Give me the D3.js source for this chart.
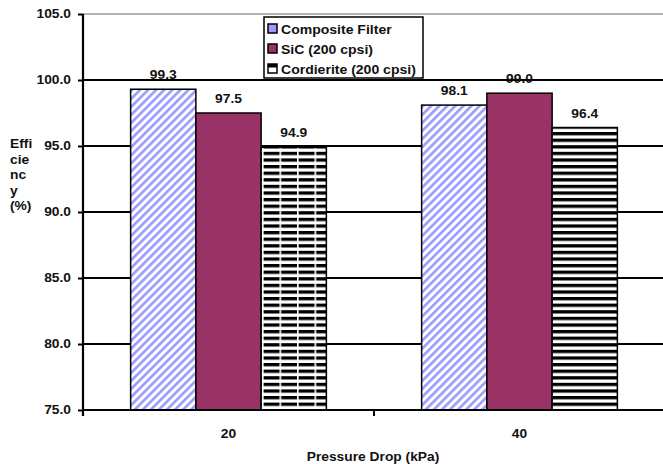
<!DOCTYPE html>
<html>
<head>
<meta charset="utf-8">
<script src="https://cdn.jsdelivr.net/npm/d3@7"></script>
<style>
  html, body { margin: 0; padding: 0; background: #fff; }
  svg { display: block; }
  text { font-family: "Liberation Sans", Arial, sans-serif; font-weight: bold; fill: #111; }
</style>
</head>
<body>
<svg id="chart" width="663" height="464"></svg>
<script>
// Filtration efficiency by pressure drop
const categories = ["20", "40"];
const seriesNames = ["Composite Filter", "SiC (200 cpsi)", "Cordierite (200 cpsi)"];
const compositeValues = [99.3, 98.1];
const sicValues = [97.5, 99.0];
const cordieriteValues = [94.9, 96.4];
const yTicks = [75, 80, 85, 90, 95, 100, 105];
const yLabelLines = ["Effi", "cie", "nc", "y", "(%)"];
const xTitle = "Pressure Drop (kPa)";

const seriesValues = [compositeValues, sicValues, cordieriteValues];

(function draw() {
const svg = d3.select("#chart");
const W = 663;
const plotLeft = 83, plotRight = 665, plotTop = 14, plotBottom = 410;
const SX = 1.15; // horizontal stretch of the lettering

const y = d3.scaleLinear().domain([75, 105]).range([plotBottom, plotTop]);
const x0 = d3.scaleBand().domain(categories).range([plotLeft, plotRight]);
const x1 = d3.scaleBand().domain(d3.range(seriesNames.length))
  .range([0, x0.bandwidth()]).paddingInner(0).paddingOuter(0.73);

// fill patterns
const defs = svg.append("defs");
const diag = defs.append("pattern").attr("id", "diag")
  .attr("patternUnits", "userSpaceOnUse").attr("width", 5.7).attr("height", 10)
  .attr("patternTransform", "rotate(45)");
diag.append("rect").attr("width", 5.7).attr("height", 10).attr("fill", "#fff");
diag.append("rect").attr("width", 2.6).attr("height", 10).attr("fill", "#9999ff");

const stripes = defs.append("pattern").attr("id", "hstripes")
  .attr("patternUnits", "userSpaceOnUse").attr("width", 10).attr("height", 6.6);
stripes.append("rect").attr("width", 10).attr("height", 6.6).attr("fill", "#fff");
stripes.append("rect").attr("width", 10).attr("height", 3.3).attr("fill", "#000");

const brick = defs.append("pattern").attr("id", "brick")
  .attr("patternUnits", "userSpaceOnUse").attr("width", 17.5).attr("height", 6.6)
  .attr("x", 4);
brick.append("rect").attr("width", 17.5).attr("height", 6.6).attr("fill", "#fff");
brick.append("rect").attr("width", 17.5).attr("height", 3.3).attr("fill", "#000");
brick.append("rect").attr("width", 1.6).attr("height", 6.6).attr("fill", "#fff");

const fills = [
  () => "url(#diag)",
  () => "#993366",
  (ci) => ci === 0 ? "url(#brick)" : "url(#hstripes)"
];

function stretchedText(g, tx, ty, str, size, anchor) {
  return g.append("text")
    .attr("transform", `translate(${tx},${ty}) scale(${SX},1)`)
    .attr("text-anchor", anchor || "middle")
    .attr("font-size", size)
    .text(str);
}

// gridlines
svg.append("g").selectAll("line").data(yTicks).join("line")
  .attr("x1", plotLeft).attr("x2", W)
  .attr("y1", d => y(d)).attr("y2", d => y(d))
  .attr("stroke", d => d === 105 ? "#9a9a9a" : "#000")
  .attr("stroke-width", d => d === 105 ? 1.5 : 2);

// bars
const groups = svg.append("g").selectAll("g").data(categories).join("g")
  .attr("transform", d => `translate(${x0(d)},0)`);
groups.each(function(cat, ci) {
  const g = d3.select(this);
  seriesNames.forEach((name, si) => {
    const v = seriesValues[si][ci];
    g.append("rect")
      .attr("x", x1(si)).attr("width", x1.bandwidth())
      .attr("y", y(v)).attr("height", y(75) - y(v))
      .attr("fill", fills[si](ci))
      .attr("stroke", "#000").attr("stroke-width", 1.5);
    stretchedText(g, x1(si) + x1.bandwidth() / 2, y(v) - 10, v.toFixed(1), 12);
  });
});

// y axis
const yAxis = d3.axisLeft(y).tickValues(yTicks).tickFormat(d3.format(".1f")).tickSize(5).tickPadding(5);
const yg = svg.append("g").attr("transform", `translate(${plotLeft},0)`).call(yAxis);
yg.select(".domain").attr("stroke", "#000").attr("stroke-width", 2.2).attr("d", `M0,${plotTop}V${plotBottom + 6}`);
yg.selectAll(".tick line").attr("stroke", "#000").attr("stroke-width", 2);
yg.selectAll(".tick text").remove();
yTicks.forEach(t => stretchedText(svg, 71, y(t) + 4.3, t.toFixed(1), 12, "end"));

// x axis
const xg = svg.append("g").attr("transform", `translate(0,${plotBottom})`);
xg.append("line").attr("x1", plotLeft).attr("x2", W).attr("y1", 0).attr("y2", 0)
  .attr("stroke", "#000").attr("stroke-width", 2.2);
xg.selectAll(".sep").data([x0(categories[1])]).join("line")
  .attr("x1", d => d).attr("x2", d => d).attr("y1", 0).attr("y2", 6)
  .attr("stroke", "#000").attr("stroke-width", 2);
categories.forEach(c => stretchedText(xg, x0(c) + x0.bandwidth() / 2, 28, c, 12));

// axis titles
stretchedText(svg, 373, 461, xTitle, 12);
yLabelLines.forEach((s, i) => stretchedText(svg, 10, 148 + i * 15.5, s, 12, "start"));

// legend
const lg = svg.append("g").attr("transform", "translate(264,17)");
lg.append("rect").attr("width", 159).attr("height", 61)
  .attr("fill", "#fff").attr("stroke", "#000").attr("stroke-width", 1.5);
const swatchFill = ["#9999ff", "#993366", "#fff"];
seriesNames.forEach((name, i) => {
  const row = lg.append("g").attr("transform", `translate(4,${7 + i * 20})`);
  row.append("rect").attr("width", 9).attr("height", 9)
    .attr("fill", swatchFill[i]).attr("stroke", "#000").attr("stroke-width", 1.5);
  if (i === 2) row.append("rect").attr("width", 9).attr("height", 3.5).attr("fill", "#000");
  row.append("text").attr("transform", "translate(13,9.5) scale(1.08,1)")
    .attr("font-size", 13).text(name);
});
})();
</script>
</body>
</html>
